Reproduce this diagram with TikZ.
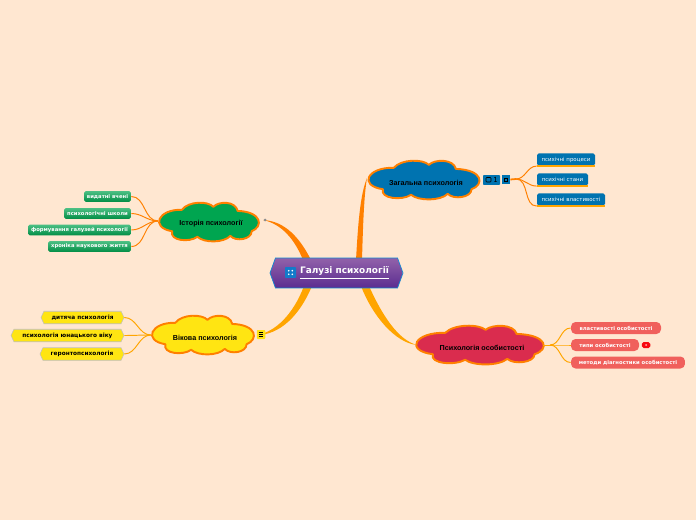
\documentclass[tikz,border=0pt]{standalone}
\usepackage{fontspec}
\setmainfont{DejaVu Sans}
\newfontfamily\cloudfont{Liberation Sans}
\usetikzlibrary{arrows.meta,positioning,shapes.symbols,shapes.misc,calc}
\definecolor{mmpeach}{RGB}{255,231,209}
\definecolor{mmorange}{RGB}{255,128,0}
\definecolor{mmamber}{RGB}{255,165,0}
\definecolor{mmblue}{RGB}{0,115,176}
\definecolor{mmgreen}{RGB}{0,165,80}
\definecolor{mmyellow}{RGB}{255,229,18}
\definecolor{mmred}{RGB}{218,44,78}
\definecolor{mmcoral}{RGB}{240,96,92}
\definecolor{mmviolettop}{RGB}{146,98,170}
\definecolor{mmvioletbot}{RGB}{90,44,144}
% blob outline: centre x, centre y, half width, half height, fill
\newcommand{\cloudblob}[5]{
  \draw[shift={(#1,#2)},x=#3*0.02cm,y=-#4*0.02cm,draw=mmorange,line width=1.1pt,fill=#5,line join=round]
    (-0.56,-0.66) .. controls (-0.42,-1.14) and (-0.02,-1.14) .. (0.09,-0.82)
    .. controls (0.2,-1.14) and (0.55,-1.14) .. (0.59,-0.6)
    .. controls (1.1,-0.55) and (1.12,0.25) .. (0.88,0.5)
    .. controls (0.88,0.95) and (0.55,1.08) .. (0.44,0.75)
    .. controls (0.3,1.14) and (-0.1,1.14) .. (-0.24,0.8)
    .. controls (-0.4,1.12) and (-0.82,1.02) .. (-0.76,0.5)
    .. controls (-1.22,0.3) and (-1.05,-0.7) .. cycle;
}
\begin{document}
\begin{tikzpicture}[
  x=0.02cm,y=-0.02cm,
  cloudbox/.style={minimum height=0.8cm,inner sep=0pt,
    font=\cloudfont\fontsize{4.1}{4.8}\selectfont\bfseries,text=black},
  leafbox/.style={rounded corners=1pt,minimum height=0.25cm,inner sep=0pt,text=white,
    font=\fontsize{3.1}{4}\selectfont},
  blueleaf/.style={leafbox,fill=mmblue},
  greenleaf/.style={leafbox,top color=mmgreen!70!white,bottom color=mmgreen!85!black,
    font=\fontsize{3.0}{4}\selectfont\bfseries},
  coralleaf/.style={leafbox,rounded corners=2.6pt,fill=mmcoral,minimum height=0.24cm,
    font=\fontsize{3.0}{4}\selectfont\bfseries},
  yellowleaf/.style={signal,signal to=west and east,signal pointer angle=130,inner sep=0pt,
    draw=black!25,fill=mmyellow,line width=0.3pt,minimum height=0.25cm,text=black,
    font=\fontsize{3.3}{4}\selectfont\bfseries},
  twig/.style={mmorange,line width=0.55pt},
  twigamber/.style={mmamber,line width=0.55pt}
]
  \useasboundingbox[fill=mmpeach] (0,0) rectangle (696,520);

  % Thick branches
  \fill[mmorange] (356,260) .. controls (358,225) and (360,195) .. (367,178) .. controls (364,195) and (363,225) .. (362,260) -- cycle;
  \fill[mmorange] (303,260) .. controls (295,240) and (282,224) .. (263,220) .. controls (285,221) and (300,238) .. (311,260) -- cycle;
  \fill[mmamber] (304,286) .. controls (293,315) and (275,332) .. (257,335) .. controls (280,335) and (300,315) .. (312,286) -- cycle;
  \fill[mmamber] (361,286) .. controls (372,315) and (395,343) .. (417,345) .. controls (398,340) and (382,315) .. (369,286) -- cycle;

  % Root
  \node[signal,signal to=west and east,signal pointer angle=140,draw=cyan!70!blue,line width=0.4pt,
    top color=mmviolettop,bottom color=mmvioletbot,minimum width=2.66cm,minimum height=0.6cm,
    inner sep=0pt] (root) at (336.5,273) {};
  \node[font=\fontsize{5.1}{6}\selectfont\bfseries,text=white] (roottext) at (344.5,273) {\underline{Галузі психології}};
  \node[fill=cyan!60!blue,rounded corners=0.5pt,minimum size=0.22cm,inner sep=0pt] (rooticon) at (290.5,272.5) {};
  \foreach \i/\j in {-1/-1,1/-1,-1/1,1/1}
    \fill[white] ($(rooticon)+(1.8*\i,1.8*\j)$) circle (0.9);

  % Main clouds
  \cloudblob{424}{180}{54}{18.5}{mmblue}
  \cloudblob{209}{222}{48.5}{18.5}{mmgreen}
  \cloudblob{203}{335}{49.5}{18.5}{mmyellow}
  \cloudblob{480}{345}{62}{18.5}{mmred}
  \node[cloudbox,minimum width=2.28cm] (general) at (426,183) {Загальна психологія};
  \node[cloudbox,minimum width=2.04cm] (history) at (211,224) {Історія психології};
  \node[cloudbox,minimum width=2.08cm] (age) at (205,337.5) {Вікова психологія};
  \node[cloudbox,minimum width=2.58cm] (person) at (482,347.5) {Психологія особистості};

  % Badges
  \node[fill=mmblue,rounded corners=0.5pt,minimum width=0.34cm,minimum height=0.2cm,inner sep=0pt,
    font=\fontsize{4}{4}\selectfont,text=black] (note) at (491.5,180) {\hspace{0.16cm}1};
  \draw[black,line width=0.3pt,rounded corners=0.4pt] ($(note.center)+(-5.5,-2.5)$) rectangle ($(note.center)+(-0.5,2)$);
  \node[fill=mmblue,minimum width=0.16cm,minimum height=0.18cm,inner sep=0pt] (link) at (506,179.5) {};
  \draw[black,line width=0.3pt] ($(link.center)+(-2,-1.5)$) rectangle ($(link.center)+(1.5,2)$);
  \node[fill=mmred!20!red,rounded corners=1pt,minimum width=0.17cm,minimum height=0.12cm,inner sep=0pt] (badge) at (646,345) {};
  \fill[white!70!red] (badge.center) circle (1);
  \node[fill=mmyellow,rounded corners=0.5pt,minimum width=0.17cm,minimum height=0.18cm,inner sep=0pt] (list) at (261,334.5) {};
  \foreach \d in {-1.8,0,1.8}
    \draw[black,line width=0.3pt] ($(list)+(-2.3,\d)$) -- ($(list)+(2.3,\d)$);
  \node[fill=black!45,circle,minimum size=0.06cm,inner sep=0pt] (star) at (265,220) {};

  % Blue leaves
  \node[blueleaf,minimum width=1.16cm] (proc) at (566,159.5) {психічні процеси};
  \node[blueleaf,minimum width=1.02cm] (state) at (562.5,179.5) {психічні стани};
  \node[blueleaf,minimum width=1.36cm] (prop) at (571,199.5) {психічні властивості};
  \foreach \n in {proc,state,prop} {
    \draw[mmamber,line width=0.7pt] (\n.south west) -- (\n.south east);
  }
  \coordinate (genhub) at (516,179);
  \draw[twig,line width=1pt] (link.east) -- (genhub);
  \draw[twig] (genhub) to[out=0,in=180] (proc.south west);
  \draw[twig] (genhub) to[out=0,in=180] (state.south west);
  \draw[twig] (genhub) to[out=0,in=180] (prop.south west);

  % Green leaves
  \node[greenleaf,minimum width=0.94cm,minimum height=0.22cm] (schol) at (107.5,196.5) {видатні вчені};
  \node[greenleaf,minimum width=1.34cm,minimum height=0.22cm] (schools) at (97.5,213.5) {психологічні школи};
  \node[greenleaf,minimum width=2.06cm,minimum height=0.22cm] (forming) at (79.5,230) {формування галузей психології};
  \node[greenleaf,minimum width=1.66cm,minimum height=0.22cm] (chron) at (89.5,246.5) {хроніка наукового життя};
  \coordinate (histhub) at (158,221);
  \foreach \n in {schol,schools,forming,chron}
    \draw[twig] (histhub) to[out=180,in=0] (\n.east);

  % Yellow leaves
  \node[yellowleaf,minimum width=1.66cm] (child) at (82.5,317.5) {дитяча психологія};
  \node[yellowleaf,minimum width=2.26cm] (youth) at (67.5,335.5) {психологія юнацького віку};
  \node[yellowleaf,minimum width=1.68cm] (geron) at (82,354) {геронтопсихологія};
  \coordinate (agehub) at (151,335);
  \foreach \n in {child,youth,geron}
    \draw[twigamber] (agehub) to[out=180,in=0] (\n.east);

  % Coral leaves
  \node[coralleaf,minimum width=1.8cm] (traits) at (616,328) {властивості особистості};
  \node[coralleaf,minimum width=1.36cm] (types) at (605,345) {типи особистості};
  \node[coralleaf,minimum width=2.28cm] (method) at (628,362.5) {методи діагностики особистості};
  \coordinate (perhub) at (550,345);
  \draw[twigamber] (543,345) -- (perhub);
  \foreach \n in {traits,types,method}
    \draw[twigamber] (perhub) to[out=0,in=180] (\n.west);
\end{tikzpicture}
\end{document}
